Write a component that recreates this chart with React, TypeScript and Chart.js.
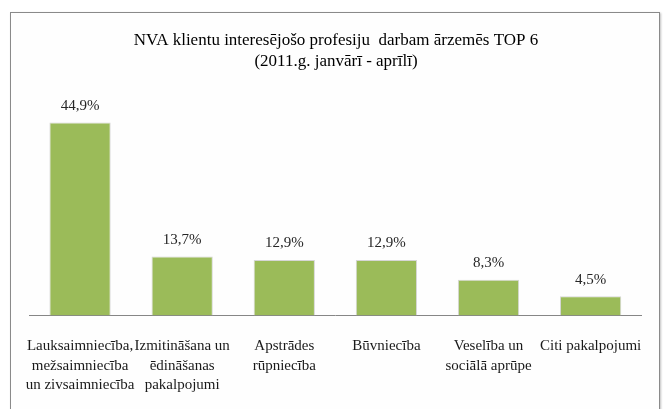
import React, { useEffect, useRef } from "react";
import { Chart, registerables } from "chart.js";

Chart.register(...registerables);

const titleLines = [
  "NVA klientu interesējošo profesiju  darbam ārzemēs TOP 6",
  "(2011.g. janvārī - aprīlī)",
];

const categories: string[][] = [
  ["Lauksaimniecība,", "mežsaimniecība", "un zivsaimniecība"],
  ["Izmitināšana un", "ēdināšanas", "pakalpojumi"],
  ["Apstrādes", "rūpniecība"],
  ["Būvniecība"],
  ["Veselība un", "sociālā aprūpe"],
  ["Citi pakalpojumi"],
];

const values = [44.9, 13.7, 12.9, 12.9, 8.3, 4.5];

const valueLabels = ["44,9%", "13,7%", "12,9%", "12,9%", "8,3%", "4,5%"];

const FONT = "'Liberation Serif', 'Times New Roman', serif";

const dataLabelPlugin = {
  id: "dataLabels",
  afterDatasetsDraw(chart: any) {
    const ctx = chart.ctx;
    const meta = chart.getDatasetMeta(0);
    ctx.save();
    ctx.font = `15px ${FONT}`;
    ctx.fillStyle = "#262626";
    ctx.textAlign = "center";
    ctx.textBaseline = "bottom";
    meta.data.forEach((bar: any, i: number) => {
      ctx.fillText(valueLabels[i], bar.x, bar.y - 9);
    });
    ctx.restore();
  },
};

export default function App() {
  const ref = useRef<HTMLCanvasElement | null>(null);

  useEffect(() => {
    if (!ref.current) return;
    const chart = new Chart(ref.current, {
      type: "bar",
      data: {
        labels: categories,
        datasets: [
          {
            data: values,
            backgroundColor: "#9BBB59",
            borderColor: "rgba(210,210,210,0.9)",
            borderWidth: { left: 1, right: 1, top: 1, bottom: 0 },
            barPercentage: 0.6,
            categoryPercentage: 1,
          },
        ],
      },
      options: {
        animation: false,
        responsive: false,
        maintainAspectRatio: false,
        layout: { padding: { left: 29, right: 21, top: 0, bottom: 0 } },
        plugins: {
          legend: { display: false },
          tooltip: { enabled: false },
          title: {
            display: true,
            text: titleLines,
            color: "#000000",
            font: { family: FONT, size: 17, weight: "normal", lineHeight: 1.25 },
            padding: { top: 30, bottom: 28 },
          },
        },
        scales: {
          x: {
            grid: { display: false, drawTicks: false },
            border: { display: true, color: "#868686", width: 1 },
            ticks: {
              color: "#1a1a1a",
              font: { family: FONT, size: 15, lineHeight: 1.3 },
              padding: 21,
              maxRotation: 0,
              autoSkip: false,
            },
          },
          y: {
            display: false,
            min: 0,
            max: 50,
          },
        },
      },
      plugins: [dataLabelPlugin],
    });
    return () => chart.destroy();
  }, []);

  return (
    <div
      style={{
        position: "fixed",
        left: 0,
        top: 0,
        width: 664,
        height: 409,
        background: "#ffffff",
        overflow: "hidden",
      }}
    >
      <div
        style={{
          position: "absolute",
          left: 10,
          top: 12,
          width: 648,
          height: 420,
          border: "1px solid #8a8a8a",
          boxShadow: "1px 1px 2px rgba(0,0,0,0.25)",
          background: "#fefefe",
        }}
      />
      <canvas
        ref={ref}
        width={664}
        height={416}
        style={{ position: "absolute", left: 0, top: 0, width: 664, height: 416 }}
      />
    </div>
  );
}
